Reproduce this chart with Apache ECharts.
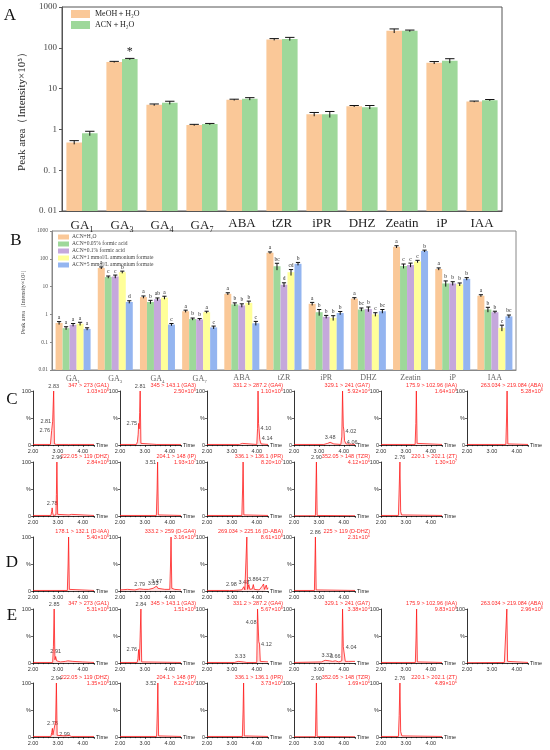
<!DOCTYPE html>
<html>
<head>
<meta charset="utf-8">
<script src="https://cdn.jsdelivr.net/npm/echarts@6/dist/echarts.min.js"></script>
<style>html,body{margin:0;padding:0;background:#fff}#chart{width:550px;height:750px}</style>
</head>
<body>
<div id="chart"></div>
<script>
const hormones = ['GA1', 'GA3', 'GA4', 'GA7', 'ABA', 'tZR', 'iPR', 'DHZ', 'Zeatin', 'iP', 'IAA'];
const logTickLabels = ['0. 01', '0. 1', '1', '10', '100', '1000'];
const logTickLabelsB = ['0.01', '0.1', '1', '10', '100', '1000'];

// panel A: extraction solvent
const solventNames = ['MeOH＋H₂O', 'ACN＋H₂O'];
const meohArea = [0.48, 45, 4.0, 1.28, 5.3, 160, 2.35, 3.7, 260, 43, 4.8];
const meohErr = [0.05, 1.5, 0.2, 0.05, 0.2, 8, 0.25, 0.15, 30, 3, 0.15];
const acnArea = [0.8, 53, 4.5, 1.35, 5.6, 165, 2.35, 3.5, 260, 48, 5.2];
const acnErr = [0.1, 2, 0.4, 0.05, 0.4, 15, 0.4, 0.35, 12, 6, 0.2];
const acnMarks = ['', '*', '', '', '', '', '', '', '', '', ''];

// panel B: mobile phase additive
const additiveNames = ['ACN+H₂O', 'ACN+0.05% formic acid', 'ACN+0.1% formic acid', 'ACN+1 mmol/L ammonium formate', 'ACN+5 mmol/L ammonium formate'];
const additiveArea = [
    [0.49, 47, 4.2, 1.3, 5.5, 165, 2.4, 3.7, 270, 43, 4.7],
    [0.32, 22, 2.8, 0.68, 2.3, 54, 1.2, 1.5, 55, 13, 1.5],
    [0.42, 23, 3.5, 0.66, 2.1, 11.7, 0.82, 1.55, 60, 13, 1.2],
    [0.46, 33, 4.0, 1.2, 2.6, 33, 0.75, 1.0, 80, 12, 0.33],
    [0.30, 2.8, 0.43, 0.34, 0.48, 66, 1.12, 1.3, 190, 19, 0.85]
];
const additiveErr = [
    [0.06, 4, 0.4, 0.12, 0.5, 12, 0.3, 0.3, 25, 4, 0.4],
    [0.04, 2, 0.4, 0.06, 0.3, 15, 0.3, 0.2, 10, 3, 0.3],
    [0.05, 3, 0.4, 0.05, 0.3, 2, 0.1, 0.3, 10, 2, 0.1],
    [0.06, 3, 0.5, 0.1, 0.4, 8, 0.15, 0.15, 8, 1.5, 0.08],
    [0.03, 0.3, 0.04, 0.04, 0.08, 8, 0.15, 0.2, 15, 2, 0.1]
];
const additiveLetters = [
    ['a', 'a', 'a', 'a', 'a', 'a', 'a', 'a', 'a', 'a', 'a'],
    ['a', 'c', 'b', 'b', 'b', 'bc', 'b', 'bc', 'c', 'b', 'b'],
    ['a', 'c', 'ab', 'b', 'b', 'd', 'b', 'b', 'c', 'b', 'b'],
    ['a', 'b', 'a', 'a', 'b', 'cd', 'b', 'c', 'c', 'b', 'c'],
    ['a', 'd', 'c', 'c', 'c', 'b', 'b', 'bc', 'b', 'b', 'bc']
];

// chromatograms: [time, %] points, peak labels [time, %, text, side]
const cRow1 = [
    {title: '347 > 273 (GA1)', scale: '1.03×10⁵',
     trace: [[2, 1], [2.7, 1], [2.73, 4], [2.75, 27], [2.77, 30], [2.79, 44], [2.81, 46], [2.83, 100], [2.86, 2], [2.95, 1], [3.42, 1], [3.47, 3], [3.52, 1], [4.45, 1]],
     peaks: [[2.83, 100, '2.83', 'top'], [2.79, 44, '2.81', 'left'], [2.75, 27, '2.76', 'left']]},
    {title: '345 > 143.1 (GA3)', scale: '2.50×10⁵',
     trace: [[2, 1], [2.66, 1], [2.7, 6], [2.73, 20], [2.75, 40], [2.77, 30], [2.79, 60], [2.81, 100], [2.84, 3], [2.9, 1], [3.48, 1], [3.52, 2], [3.56, 1], [4.45, 1]],
     peaks: [[2.81, 100, '2.81', 'top'], [2.75, 40, '2.75', 'left']]},
    {title: '331.2 > 287.2 (GA4)', scale: '1.10×10⁵',
     trace: [[2, 1], [3.3, 1], [3.42, 3], [3.5, 1], [4.0, 1], [4.03, 30], [4.05, 100], [4.07, 40], [4.09, 30], [4.12, 10], [4.14, 12], [4.17, 2], [4.45, 1]],
     peaks: [[4.09, 30, '4.10', 'right'], [4.14, 12, '4.14', 'right']]},
    {title: '329.1 > 241 (GA7)', scale: '5.92×10⁴',
     trace: [[2, 1], [3.2, 1], [3.35, 3], [3.45, 5], [3.5, 4], [3.6, 2], [3.88, 1], [3.92, 15], [3.95, 100], [3.98, 35], [4.01, 25], [4.03, 8], [4.06, 5], [4.09, 2], [4.45, 1]],
     peaks: [[3.45, 5, '3.48', 'top'], [4.01, 25, '4.02', 'right'], [4.06, 5, '4.06', 'right']]},
    {title: '175.9 > 102.96 (IAA)', scale: '1.64×10⁵',
     trace: [[2, 1], [3.37, 1], [3.4, 40], [3.42, 100], [3.45, 3], [3.5, 1], [4.45, 1]],
     peaks: []},
    {title: '263.034 > 219.084 (ABA)', scale: '5.28×10⁵',
     trace: [[2, 1], [3.45, 1], [3.5, 2], [3.56, 1], [3.59, 50], [3.61, 100], [3.64, 2], [3.7, 1], [4.45, 1]],
     peaks: []}
];
const cRow2 = [
    {title: '222.05 > 119 (DHZ)', scale: '2.84×10⁵',
     trace: [[2, 1], [2.72, 1], [2.75, 8], [2.77, 15], [2.79, 6], [2.82, 1], [2.92, 2], [2.94, 40], [2.96, 100], [2.99, 3], [3.05, 1], [3.45, 2], [3.55, 3], [3.6, 1], [4.45, 1]],
     peaks: [[2.96, 100, '2.96', 'top'], [2.77, 15, '2.78', 'top']]},
    {title: '204.1 > 148 (IP)', scale: '1.93×10⁷',
     trace: [[2, 1], [3.46, 1], [3.49, 50], [3.51, 100], [3.54, 2], [4.45, 1]],
     peaks: [[3.51, 100, '3.51', 'left']]},
    {title: '336.1 > 136.1 (IPR)', scale: '8.20×10⁷',
     trace: [[2, 1], [3.4, 1], [3.43, 50], [3.45, 100], [3.48, 2], [4.45, 1]],
     peaks: []},
    {title: '352.05 > 148 (TZR)', scale: '4.12×10⁶',
     trace: [[2, 0.5], [2.86, 0.5], [2.88, 50], [2.9, 100], [2.93, 1], [4.45, 0.5]],
     peaks: [[2.9, 100, '2.90', 'top']]},
    {title: '220.1 > 202.1 (ZT)', scale: '1.30×10⁷',
     trace: [[2, 1], [2.7, 1], [2.73, 50], [2.76, 100], [2.79, 8], [2.83, 2], [2.9, 1], [4.45, 1]],
     peaks: [[2.76, 100, '2.76', 'top']]}
];
const dRow = [
    {title: '178.1 > 132.1 (D-IAA)', scale: '5.40×10⁵',
     trace: [[2, 1], [3.38, 1], [3.41, 50], [3.43, 100], [3.46, 3], [3.52, 1], [4.45, 1]],
     peaks: []},
    {title: '333.2 > 259 (D-GA4)', scale: '3.16×10⁵',
     trace: [[2, 2], [2.3, 3], [2.6, 2], [2.79, 4], [2.95, 3], [3.15, 3], [3.33, 5], [3.4, 7], [3.47, 9], [3.52, 5], [3.6, 3], [3.8, 3], [4.0, 3], [4.03, 50], [4.05, 100], [4.08, 5], [4.2, 3], [4.45, 2]],
     peaks: [[2.79, 4, '2.79', 'top'], [3.33, 5, '3.33', 'top'], [3.47, 9, '3.47', 'top']]},
    {title: '269.034 > 225.16 (D-ABA)', scale: '8.61×10⁵',
     trace: [[2, 1], [2.9, 1], [2.98, 3], [3.05, 1], [3.4, 2], [3.48, 8], [3.52, 2], [3.58, 3], [3.6, 100], [3.63, 3], [3.68, 12], [3.72, 3], [3.82, 4], [3.86, 12], [3.9, 3], [4.1, 2], [4.22, 9], [4.27, 13], [4.31, 3], [4.38, 11], [4.42, 3], [4.45, 6]],
     peaks: [[2.98, 3, '2.98', 'top'], [3.48, 8, '3.48', 'top'], [3.86, 12, '3.86', 'top'], [4.27, 13, '4.27', 'top']]},
    {title: '225 > 119 (D-DHZ)', scale: '2.31×10⁶',
     trace: [[2, 1], [2.82, 1], [2.84, 50], [2.86, 100], [2.89, 2], [4.45, 1]],
     peaks: [[2.86, 100, '2.86', 'top']]}
];
const eRow1 = [
    {title: '347 > 273 (GA1)', scale: '5.31×10⁵',
     trace: [[2, 1], [2.79, 1], [2.82, 30], [2.85, 100], [2.88, 6], [2.91, 12], [2.95, 4], [3.1, 2], [3.3, 3], [3.4, 4], [3.6, 3], [4.0, 2], [4.45, 1]],
     peaks: [[2.85, 100, '2.85', 'top'], [2.91, 12, '2.91', 'top']]},
    {title: '345 > 143.1 (GA3)', scale: '1.51×10⁵',
     trace: [[2, 1], [2.69, 1], [2.72, 8], [2.75, 25], [2.78, 5], [2.81, 50], [2.84, 100], [2.87, 2], [2.95, 1], [4.45, 1]],
     peaks: [[2.84, 100, '2.84', 'top'], [2.75, 25, '2.76', 'left']]},
    {title: '331.2 > 287.2 (GA4)', scale: '5.67×10⁵',
     trace: [[2, 1], [3.1, 1], [3.25, 3], [3.33, 3], [3.45, 2], [3.6, 1], [4.0, 1], [4.03, 100], [4.05, 75], [4.08, 40], [4.11, 35], [4.14, 3], [4.45, 2]],
     peaks: [[4.05, 75, '4.08', 'left'], [4.11, 35, '4.12', 'right'], [3.33, 3, '3.33', 'top']]},
    {title: '329.1 > 241 (GA7)', scale: '3.38×10⁴',
     trace: [[2, 1], [3.1, 2], [3.25, 5], [3.32, 6], [3.42, 4], [3.55, 3], [3.66, 4], [3.8, 2], [3.92, 4], [3.95, 100], [3.98, 30], [4.02, 28], [4.06, 3], [4.2, 3], [4.45, 3]],
     peaks: [[3.32, 6, '3.32', 'top'], [3.66, 4, '3.66', 'top'], [4.02, 28, '4.04', 'right']]},
    {title: '175.9 > 102.96 (IAA)', scale: '9.83×10⁵',
     trace: [[2, 1], [3.38, 1], [3.41, 50], [3.43, 100], [3.46, 2], [4.45, 1]],
     peaks: []},
    {title: '263.034 > 219.084 (ABA)', scale: '2.96×10⁵',
     trace: [[2, 0.5], [3.5, 1], [3.58, 2], [3.6, 100], [3.63, 3], [3.7, 1], [4.45, 1]],
     peaks: []}
];
const eRow2 = [
    {title: '222.05 > 119 (DHZ)', scale: '1.35×10⁵',
     trace: [[2, 1], [2.72, 1], [2.75, 8], [2.78, 16], [2.8, 4], [2.84, 1], [2.91, 30], [2.94, 100], [2.97, 3], [2.99, 5], [3.03, 1], [3.3, 2], [3.45, 3], [3.55, 1], [4.45, 1]],
     peaks: [[2.94, 100, '2.94', 'top'], [2.78, 16, '2.78', 'top'], [2.99, 5, '2.99', 'right']]},
    {title: '204.1 > 148 (IP)', scale: '8.22×10⁶',
     trace: [[2, 1], [3.47, 1], [3.5, 50], [3.52, 100], [3.55, 2], [4.45, 1]],
     peaks: [[3.52, 100, '3.52', 'left']]},
    {title: '336.1 > 136.1 (IPR)', scale: '3.73×10⁶',
     trace: [[2, 1], [3.42, 1], [3.45, 50], [3.47, 100], [3.5, 2], [4.45, 1]],
     peaks: []},
    {title: '352.05 > 148 (TZR)', scale: '1.69×10⁶',
     trace: [[2, 0.5], [2.86, 0.5], [2.88, 50], [2.9, 100], [2.93, 1], [4.45, 0.5]],
     peaks: [[2.9, 100, '2.90', 'top']]},
    {title: '220.1 > 202.1 (ZT)', scale: '4.89×10⁶',
     trace: [[2, 1], [2.7, 1], [2.73, 40], [2.76, 100], [2.79, 10], [2.84, 2], [2.9, 1], [4.45, 1]],
     peaks: [[2.76, 100, '2.76', 'top']]}
];

const serif = '"Liberation Serif", "Times New Roman", serif';
const sans = '"Liberation Sans", Arial, sans-serif';
const barColorsA = ['#FAC898', '#9ED89A'];
const barColorsB = ['#FAC898', '#9ED89A', '#C5A8DC', '#FFFF99', '#94B5F0'];

const grid = [], xAxis = [], yAxis = [], series = [], graphic = [];

const subLabel = v => {
    const m = v.match(/^GA(\d)$/);
    return m ? '{m|GA}{s|' + m[1] + '}' : '{m|' + v + '}';
};

function errorSeries(gi, values, errs, marks, k, n, gap, font) {
    return {
        type: 'custom', xAxisIndex: gi, yAxisIndex: gi, z: 5, silent: true,
        data: values.map((v, i) => [i, v, errs[i]]),
        renderItem: (params, api) => {
            const i = api.value(0), v = api.value(1), e = api.value(2);
            const band = api.size([1, 0])[0];
            const w = band * (1 - gap) / n;
            const dx = (k - (n - 1) / 2) * w;
            const lo = api.coord([i, v - e]);
            const hi = api.coord([i, v + e]);
            const x = hi[0] + dx, cap = w * 0.3;
            const children = [
                {type: 'line', shape: {x1: x, y1: lo[1], x2: x, y2: hi[1]}, style: {stroke: '#111', lineWidth: 1}},
                {type: 'line', shape: {x1: x - cap, y1: hi[1], x2: x + cap, y2: hi[1]}, style: {stroke: '#111', lineWidth: 1}}
            ];
            const mark = marks[params.dataIndex];
            if (mark) {
                children.push({type: 'text', x: x, y: hi[1] - 1,
                    style: {text: mark, align: 'center', verticalAlign: 'bottom', font: font, fill: '#222'}});
            }
            return {type: 'group', children};
        }
    };
}

// ---- panel A ----
grid.push({left: 62, top: 7, width: 440, height: 204, show: true, borderColor: '#555', borderWidth: 1});
xAxis.push({type: 'category', gridIndex: 0, data: hormones,
    axisTick: {show: false}, axisLine: {lineStyle: {color: '#555'}},
    axisLabel: {formatter: subLabel, margin: 6, interval: 0,
        rich: {m: {fontSize: 13, fontFamily: serif, color: '#222'},
               s: {fontSize: 8, fontFamily: serif, color: '#222', padding: [9, 0, 0, 0]}}}});
yAxis.push({type: 'log', gridIndex: 0, min: 0.01, max: 1000, startValue: 0.01,
    splitLine: {show: false}, axisLine: {show: true, lineStyle: {color: '#555'}},
    axisTick: {show: true, length: 3},
    axisLabel: {fontFamily: serif, fontSize: 9, color: '#444', margin: 5,
        formatter: v => logTickLabels[Math.round(Math.log10(v)) + 2]},
    name: 'Peak area（Intensity×10⁵）', nameLocation: 'middle', nameGap: 22,
    nameTextStyle: {fontFamily: serif, fontSize: 11, color: '#222'}});
[meohArea, acnArea].forEach((d, k) => {
    series.push({type: 'bar', name: solventNames[k], xAxisIndex: 0, yAxisIndex: 0, data: d,
        barGap: '0%', barCategoryGap: '22%', itemStyle: {color: barColorsA[k]}});
});
series.push(errorSeries(0, meohArea, meohErr, [], 0, 2, 0.22, '10px ' + serif));
series.push(errorSeries(0, acnArea, acnErr, acnMarks, 1, 2, 0.22, '12px ' + serif));

// ---- panel B ----
grid.push({left: 52, top: 231, width: 464, height: 139, show: true, borderColor: '#888', borderWidth: 1});
xAxis.push({type: 'category', gridIndex: 1, data: hormones,
    axisTick: {show: false}, axisLine: {lineStyle: {color: '#888'}},
    axisLabel: {formatter: subLabel, margin: 4, interval: 0,
        rich: {m: {fontSize: 8, fontFamily: serif, color: '#666'},
               s: {fontSize: 5, fontFamily: serif, color: '#666', padding: [5, 0, 0, 0]}}}});
yAxis.push({type: 'log', gridIndex: 1, min: 0.01, max: 1000, startValue: 0.01,
    splitLine: {show: false}, axisLine: {show: true, lineStyle: {color: '#888'}},
    axisTick: {show: true, length: 2},
    axisLabel: {fontFamily: serif, fontSize: 5.5, color: '#555', margin: 4,
        formatter: v => logTickLabelsB[Math.round(Math.log10(v)) + 2]},
    name: 'Peak area（Intensity×10⁵）', nameLocation: 'middle', nameGap: 16,
    nameTextStyle: {fontFamily: serif, fontSize: 6, color: '#444'}});
additiveArea.forEach((d, k) => {
    series.push({type: 'bar', name: additiveNames[k], xAxisIndex: 1, yAxisIndex: 1, data: d,
        barGap: '0%', barCategoryGap: '17%', itemStyle: {color: barColorsB[k]}});
});
additiveArea.forEach((d, k) => {
    series.push(errorSeries(1, d, additiveErr[k], additiveLetters[k], k, 5, 0.17, '5.5px ' + serif));
});

// ---- panels C, D, E ----
const colLeft = [33, 120, 207, 294, 381, 467];
function addChrom(c, left, top) {
    const gi = grid.length;
    grid.push({left: left, top: top, width: 61, height: 54});
    xAxis.push({type: 'value', gridIndex: gi, min: 2, max: 4.45, interval: 1,
        name: 'Time', nameLocation: 'end', nameGap: 2,
        nameTextStyle: {fontSize: 5.5, color: '#222', fontFamily: sans},
        axisLine: {onZero: false, lineStyle: {color: '#000', width: 0.8}},
        axisTick: {length: 2, lineStyle: {color: '#000', width: 0.6}},
        minorTick: {show: true, splitNumber: 5, length: 1.2, lineStyle: {color: '#000', width: 0.5}},
        axisLabel: {fontSize: 5.5, margin: 3, color: '#333', fontFamily: sans,
            formatter: v => v.toFixed(2), showMaxLabel: false},
        splitLine: {show: false}});
    yAxis.push({type: 'value', gridIndex: gi, min: 0, max: 100, interval: 50,
        axisLine: {show: true, lineStyle: {color: '#000', width: 0.8}},
        axisTick: {show: true, length: 2, lineStyle: {color: '#000', width: 0.6}},
        axisLabel: {fontSize: 5.5, margin: 2, color: '#333', fontFamily: sans,
            formatter: v => (v === 50 ? '%' : String(v))},
        splitLine: {show: false}});
    series.push({type: 'line', xAxisIndex: gi, yAxisIndex: gi, data: c.trace, symbol: 'none',
        lineStyle: {color: '#ff1a1a', width: 0.8}, areaStyle: {color: 'rgba(255,90,90,0.3)'}, silent: true});
    series.push({type: 'scatter', xAxisIndex: gi, yAxisIndex: gi, symbolSize: 0.1, silent: true,
        itemStyle: {color: 'rgba(0,0,0,0)'},
        data: c.peaks.map(p => ({name: p[2], value: [p[0], p[1]], label: {position: p[3]}})),
        label: {show: true, formatter: p => p.name, fontSize: 5.5, color: '#111', fontFamily: sans, distance: 1.5}});
    graphic.push({type: 'text', x: left + 76, y: top - 9,
        style: {text: c.title + '\n' + c.scale, align: 'right', verticalAlign: 'top',
            font: '5.5px ' + sans, fill: '#ff2a2a', lineHeight: 6.5}});
}
const rows = [[cRow1, 391], [cRow2, 462], [dRow, 537], [eRow1, 609], [eRow2, 683]];
rows.forEach(([row, top]) => row.forEach((c, j) => addChrom(c, colLeft[j], top)));

[['A', 10, 16], ['B', 16, 241], ['C', 12, 400], ['D', 12, 563], ['E', 12, 616]].forEach(([t, x, y]) => {
    graphic.push({type: 'text', x: x, y: y,
        style: {text: t, align: 'center', verticalAlign: 'middle', font: '17px ' + serif, fill: '#111'}});
});

const chart = echarts.init(document.getElementById('chart'));
chart.setOption({
    animation: false,
    grid, xAxis, yAxis, series, graphic,
    legend: [
        {left: 66, top: 5, orient: 'vertical', icon: 'rect', itemWidth: 19, itemHeight: 8, itemGap: 3,
         data: solventNames, textStyle: {fontFamily: serif, fontSize: 8, color: '#222'}},
        {left: 53, top: 229, orient: 'vertical', icon: 'rect', itemWidth: 11, itemHeight: 5, itemGap: 1,
         data: additiveNames, textStyle: {fontFamily: serif, fontSize: 5.5, color: '#444', padding: [0, 0, 0, -2]}}
    ]
});
</script>
</body>
</html>
